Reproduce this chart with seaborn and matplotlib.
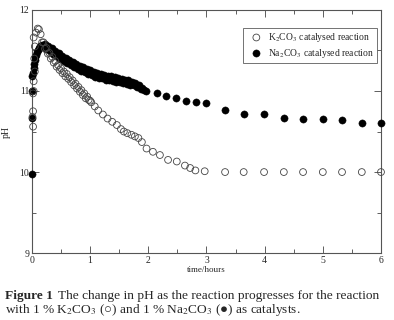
import matplotlib
matplotlib.use("Agg")
import matplotlib.pyplot as plt
import pandas as pd
import seaborn as sns
from matplotlib.ticker import MultipleLocator

# Na2CO3 catalysed run (filled markers)
na_time = [0.00, 0.00, 0.00, 0.01, 0.02, 0.03, 0.04, 0.05, 0.06, 0.07, 0.08, 0.10,
           0.12, 0.14, 0.16, 0.18, 0.20,
           0.22, 0.25, 0.28, 0.31, 0.34, 0.37, 0.40, 0.43, 0.46, 0.49, 0.52, 0.55,
           0.58, 0.61, 0.64, 0.67, 0.70, 0.73, 0.76, 0.79, 0.82, 0.85, 0.88, 0.91,
           0.94, 0.97, 1.00, 1.03, 1.06, 1.09, 1.12, 1.15, 1.18, 1.21, 1.24, 1.27,
           1.30, 1.33, 1.36, 1.39, 1.42, 1.45, 1.48, 1.51, 1.54, 1.57, 1.60, 1.63,
           1.66, 1.69, 1.72, 1.75, 1.78, 1.81, 1.84, 1.87, 1.90, 1.93, 1.96,
           2.15, 2.31, 2.47, 2.65, 2.82, 2.99, 3.32, 3.64, 3.99, 4.33, 4.66, 5.00,
           5.33, 5.67, 6.00]
na_ph = [9.97, 10.67, 11.00, 11.18, 11.22, 11.28, 11.33, 11.38, 11.42, 11.45, 11.48, 11.51,
         11.53, 11.55, 11.56, 11.57, 11.57,
         11.585, 11.52, 11.555, 11.49, 11.525, 11.46, 11.495, 11.43, 11.465, 11.40, 11.435, 11.37,
         11.405, 11.34, 11.38, 11.315, 11.355, 11.295, 11.33, 11.27, 11.31, 11.25, 11.29, 11.23,
         11.27, 11.215, 11.255, 11.195, 11.235, 11.175, 11.22, 11.165, 11.21, 11.155, 11.20, 11.14,
         11.185, 11.13, 11.18, 11.125, 11.17, 11.115, 11.16, 11.105, 11.15, 11.10, 11.14, 11.09,
         11.13, 11.08, 11.115, 11.07, 11.10, 11.05, 11.08, 11.025, 11.04, 11.01, 11.00,
         10.97, 10.94, 10.91, 10.88, 10.87, 10.85, 10.77, 10.71, 10.71, 10.67, 10.66, 10.65,
         10.64, 10.60, 10.60]

# K2CO3 catalysed run (open markers)
k_time = [0.02, 0.01, 0.02, 0.02, 0.03, 0.03, 0.05, 0.04, 0.05, 0.03, 0.07, 0.10, 0.12,
          0.15, 0.175, 0.20, 0.225, 0.25, 0.275, 0.30, 0.325, 0.35, 0.375, 0.40, 0.425,
          0.45, 0.475, 0.50, 0.525, 0.55, 0.575, 0.60, 0.625, 0.65, 0.675, 0.70, 0.725,
          0.75, 0.775, 0.80, 0.825, 0.85, 0.875, 0.90, 0.925, 0.95, 0.975, 1.00,
          1.02, 1.08, 1.14, 1.22, 1.30, 1.38, 1.46, 1.53, 1.58, 1.64, 1.71, 1.77, 1.83,
          1.89, 1.97, 2.08, 2.20, 2.34, 2.49, 2.63, 2.72, 2.81, 2.97, 3.32, 3.64, 3.99,
          4.33, 4.66, 5.00, 5.33, 5.67, 6.00]
k_ph = [10.56, 10.68, 10.75, 10.97, 11.00, 11.12, 11.24, 11.40, 11.55, 11.66, 11.72, 11.77, 11.76,
        11.70, 11.60, 11.60, 11.52, 11.53, 11.46, 11.47, 11.40, 11.42, 11.35, 11.37, 11.30,
        11.32, 11.26, 11.28, 11.22, 11.24, 11.18, 11.21, 11.15, 11.17, 11.11, 11.13, 11.07,
        11.09, 11.03, 11.05, 10.99, 11.01, 10.95, 10.97, 10.91, 10.93, 10.89, 10.88,
        10.86, 10.81, 10.76, 10.71, 10.66, 10.62, 10.58, 10.53, 10.50, 10.48, 10.46, 10.44, 10.42,
        10.37, 10.29, 10.25, 10.21, 10.15, 10.13, 10.08, 10.05, 10.02, 10.01, 10.00, 10.00, 10.00,
        10.00, 10.00, 10.00, 10.00, 10.00, 10.00]

x_ticks = [0, 1, 2, 3, 4, 5, 6]
y_ticks = [9, 10, 11, 12]

sns.set_style("ticks")
plt.rcParams["font.family"] = ["Liberation Serif", "DejaVu Sans"]
plt.rcParams["mathtext.fontset"] = "stix"

na = pd.DataFrame({"time": na_time, "pH": na_ph})
k = pd.DataFrame({"time": k_time, "pH": k_ph})

fig = plt.figure(figsize=(3.94, 3.2), dpi=100)
ax = fig.add_axes([0.081, 0.209, 0.886, 0.760])

sns.scatterplot(data=na, x="time", y="pH", ax=ax, marker="o", s=27, color="black",
                edgecolor="black", linewidth=0.3, clip_on=False, zorder=3,
                label="Na$_2$CO$_3$ catalysed reaction")
sns.scatterplot(data=k, x="time", y="pH", ax=ax, marker="o", s=24, facecolor="none",
                edgecolor="#444444", linewidth=0.6, clip_on=False, zorder=4,
                label="K$_2$CO$_3$ catalysed reaction")

ax.set_xlim(0, 6)
ax.set_ylim(9, 12)
ax.set_xticks(x_ticks)
ax.set_yticks(y_ticks)
ax.xaxis.set_minor_locator(MultipleLocator(0.5))
ax.yaxis.set_minor_locator(MultipleLocator(0.5))
ax.tick_params(which="both", direction="in", top=True, right=True, width=0.6,
               color="#444444", labelsize=7, pad=2)
ax.tick_params(which="major", length=5)
ax.tick_params(which="minor", length=3)
for sp in ax.spines.values():
    sp.set_color("#555555")
    sp.set_linewidth(0.8)

ax.set_xlabel("time/hours", fontsize=6.5, labelpad=1)
ax.set_ylabel("pH", fontsize=7, labelpad=6)

handles, labels = ax.get_legend_handles_labels()
leg = ax.legend(handles[::-1], labels[::-1], loc="upper right", bbox_to_anchor=(0.995, 0.935),
                fontsize=6.9, frameon=True, fancybox=False, borderpad=0.35,
                handletextpad=0.2, labelspacing=0.3, borderaxespad=0.2, markerscale=1.0)
leg.get_frame().set_edgecolor("#333333")
leg.get_frame().set_linewidth(0.6)

# caption
cap_size = 9.6
fig.canvas.draw()
t1 = fig.text(5 / 394, 0.066, "Figure 1", fontsize=cap_size, fontweight="bold", va="baseline")
bb = t1.get_window_extent(fig.canvas.get_renderer())
fig.text(bb.x1 / fig.bbox.width + 0.012, 0.066,
         "The change in pH as the reaction progresses for the reaction",
         fontsize=cap_size, va="baseline")
fig.text(5 / 394, 0.022,
         "with 1 % K$_2$CO$_3$ (\u25cb) and 1 % Na$_2$CO$_3$ (\u25cf) as catalysts.",
         fontsize=cap_size, va="baseline")

fig.savefig("out.png", dpi=100)
